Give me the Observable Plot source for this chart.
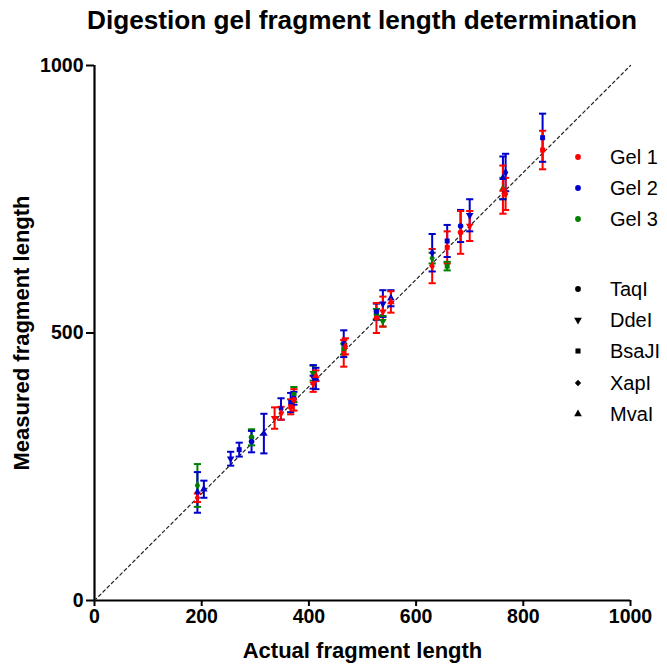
<!DOCTYPE html>
<html>
<head>
<meta charset="utf-8">
<script src="https://cdn.jsdelivr.net/npm/d3@7"></script>
<script src="https://cdn.jsdelivr.net/npm/@observablehq/plot@0.6"></script>
<style>
  body { margin: 0; background: #fff; font-family: "Liberation Sans", Arial, sans-serif; }
  #wrap { position: relative; width: 667px; height: 670px; }
  #title { height: 40px; box-sizing: border-box; padding: 5px 37px 0 94px; text-align: center;
           font-weight: bold; font-size: 26.2px; color: #000; white-space: nowrap; }
  #title div { margin-left: -100px; margin-right: -100px; }
  #legend { position: absolute; left: 568px; top: 0; font-size: 20px; color: #000; }
  .li { position: absolute; left: 0; width: 100px; height: 20px; }
  .li svg { position: absolute; left: 0; top: 0; }
  .li span { position: absolute; left: 42px; top: 0; line-height: 20px; white-space: nowrap; }
</style>
</head>
<body>
<div id="wrap">
  <div id="title"><div>Digestion gel fragment length determination</div></div>
  <div id="chart"></div>
  <div id="legend"></div>
</div>
<script>
// ---- data ----
const gels = ["Gel 1", "Gel 2", "Gel 3"];
const gelColors = ["#ff0000", "#0000cc", "#008000"];
const enzymes = ["TaqI", "DdeI", "BsaJI", "XapI", "MvaI"];
const enzymeSymbols = ["circle", "triangle", "square", "diamond", "triangle"];
const enzymeRotate = [0, 180, 0, 0, 0];
const xTicks = [0, 200, 400, 600, 800, 1000];
const yTicks = [0, 500, 1000];
const diagonal = [0, 1000];

const actualLength = [192,192,192,204,254,270,293,293,316,336,348,348,366,366,372,372,372,408,408,408,413,413,465,465,465,468,526,526,526,538,538,538,553,553,630,630,630,658,658,658,683,683,700,700,762,762,762,767,767,836,836];
const gelName = ["Gel 2","Gel 3","Gel 1","Gel 2","Gel 2","Gel 2","Gel 2","Gel 3","Gel 2","Gel 1","Gel 2","Gel 1","Gel 1","Gel 2","Gel 3","Gel 2","Gel 1","Gel 3","Gel 2","Gel 1","Gel 2","Gel 1","Gel 2","Gel 3","Gel 1","Gel 1","Gel 3","Gel 2","Gel 1","Gel 3","Gel 2","Gel 1","Gel 2","Gel 1","Gel 3","Gel 2","Gel 1","Gel 3","Gel 2","Gel 1","Gel 2","Gel 1","Gel 2","Gel 1","Gel 3","Gel 2","Gel 1","Gel 2","Gel 1","Gel 2","Gel 1"];
const measuredLength = [202,215,192,208,265,282,297,305,312,341,358,350,362,370,385,378,375,425,418,405,415,420,480,470,462,475,535,540,528,522,555,540,565,558,640,650,625,625,672,660,700,688,720,700,770,790,768,800,760,865,842];
const errorSize = [38,40,8,16,13,13,20,15,37,20,20,12,14,18,14,12,20,14,22,15,20,10,25,10,25,15,10,15,28,10,25,28,15,20,10,35,32,8,30,30,30,40,30,28,20,40,45,35,30,45,36];
const enzymeName = ["XapI","XapI","XapI","MvaI","DdeI","BsaJI","TaqI","TaqI","MvaI","DdeI","XapI","XapI","BsaJI","BsaJI","TaqI","TaqI","TaqI","DdeI","DdeI","DdeI","MvaI","MvaI","BsaJI","BsaJI","BsaJI","XapI","TaqI","TaqI","TaqI","DdeI","DdeI","DdeI","MvaI","MvaI","XapI","XapI","XapI","BsaJI","BsaJI","BsaJI","TaqI","TaqI","DdeI","DdeI","MvaI","MvaI","MvaI","XapI","XapI","BsaJI","BsaJI"];

const drawOrder = ["Gel 3", "Gel 2", "Gel 1"];
const rows = actualLength.map((a, i) => ({
  actual: a, gel: gelName[i], measured: measuredLength[i], err: errorSize[i], enzyme: enzymeName[i]
})).sort((p, q) => drawOrder.indexOf(p.gel) - drawOrder.indexOf(q.gel));

const capSymbol = {
  draw(context, size) {
    const w = Math.sqrt(size / Math.PI);
    context.moveTo(-w, 0);
    context.lineTo(w, 0);
  }
};
const rotOf = d => enzymeRotate[enzymes.indexOf(d.enzyme)];

const font = '"Liberation Sans", Arial, sans-serif';
const chart = Plot.plot({
  width: 667,
  height: 630,
  marginTop: 25,
  marginLeft: 94,
  marginRight: 37,
  marginBottom: 70,
  style: { fontFamily: font, background: "#fff", color: "#000", overflow: "visible" },
  x: { domain: [0, 1000] },
  y: { domain: [0, 1000] },
  color: { domain: gels, range: gelColors },
  symbol: { domain: enzymes, range: enzymeSymbols },
  marks: [
    Plot.axisX({ ticks: xTicks, tickSize: 6, tickPadding: 3, tickFormat: d => String(d), label: null,
                 strokeWidth: 2, fontSize: 19.5, fontWeight: "bold" }),
    Plot.axisY({ ticks: yTicks, tickSize: 8, tickPadding: 3, tickFormat: d => String(d), label: null,
                 strokeWidth: 2, fontSize: 19.5, fontWeight: "bold" }),
    Plot.ruleY([0], { strokeWidth: 2.2 }),
    Plot.ruleX([0], { strokeWidth: 2.2 }),
    Plot.line(diagonal, { x: d => d, y: d => d, stroke: "#222", strokeWidth: 1.2, strokeDasharray: "3,3" }),
    Plot.ruleX(rows, { x: "actual", y1: d => d.measured - d.err, y2: d => d.measured + d.err,
                       stroke: "gel", strokeWidth: 2 }),
    Plot.dot(rows, { x: "actual", y: d => d.measured - d.err, symbol: capSymbol, r: 3.6,
                     fill: "none", stroke: "gel", strokeWidth: 2 }),
    Plot.dot(rows, { x: "actual", y: d => d.measured + d.err, symbol: capSymbol, r: 3.6,
                     fill: "none", stroke: "gel", strokeWidth: 2 }),
    Plot.dot(rows, { x: "actual", y: "measured", symbol: "enzyme", fill: "gel", stroke: "none",
                     r: 2.8, rotate: rotOf }),
    Plot.text(["Actual fragment length"], { frameAnchor: "bottom", dy: 57, text: d => d,
                 fontSize: 22, fontWeight: "bold" }),
    Plot.text(["Measured fragment length"], { frameAnchor: "left", dx: -73, rotate: -90, text: d => d,
                 textAnchor: "middle", fontSize: 22, fontWeight: "bold" })
  ]
});
document.getElementById("chart").appendChild(chart);

// ---- legend ----
const legend = document.getElementById("legend");
const legendItems = [
  ...gels.map((g, i) => ({ label: g, color: gelColors[i], sym: d3.symbolCircle, rot: 0 })),
  ...enzymes.map((e, i) => ({ label: e, color: "#000",
      sym: enzymeSymbols[i] === "circle" ? d3.symbolCircle : enzymeSymbols[i] === "square" ? d3.symbolSquare
         : enzymeSymbols[i] === "diamond" ? d3.symbolDiamond2 : d3.symbolTriangle, rot: enzymeRotate[i] }))
];
let gi = 0, ei = 0;
legendItems.forEach((it, idx) => {
  const isGel = idx < gels.length;
  const top = isGel ? 147 + 31 * gi++ : 279 + 31.2 * ei++;
  const div = document.createElement("div");
  div.className = "li";
  div.style.top = top + "px";
  const path = d3.symbol(it.sym, 26)();
  div.innerHTML = `<svg width="20" height="20"><path d="${path}" fill="${it.color}" transform="translate(10,10) rotate(${it.rot})"/></svg><span>${it.label}</span>`;
  legend.appendChild(div);
});
</script>
</body>
</html>
